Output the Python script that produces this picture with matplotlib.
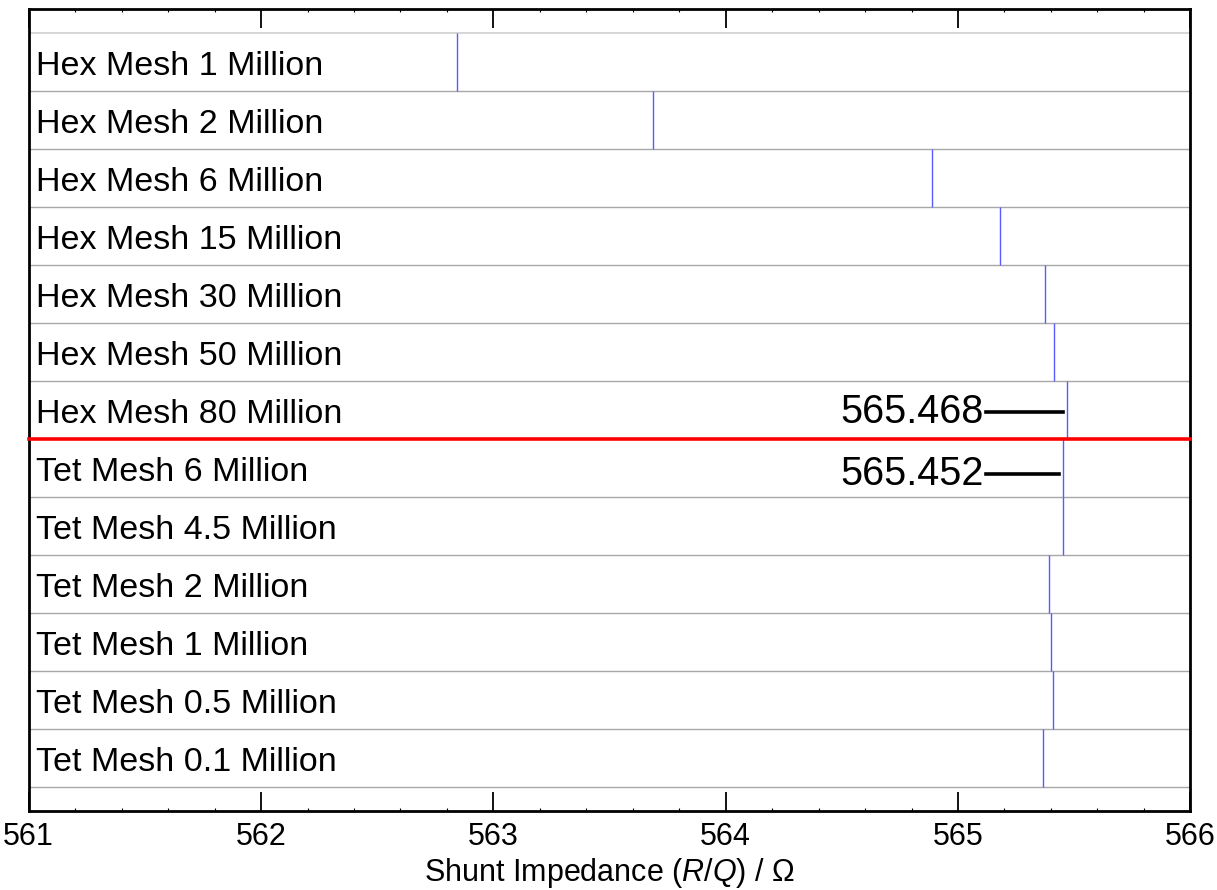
import numpy as np
import matplotlib.pyplot as plt
from matplotlib.ticker import MultipleLocator

plt.rcParams['font.family'] = ['Liberation Sans', 'DejaVu Sans']
plt.rcParams['mathtext.fontset'] = 'custom'
plt.rcParams['mathtext.rm'] = 'Liberation Sans'
plt.rcParams['mathtext.it'] = 'Liberation Sans:italic'

# mesh studies, top to bottom
labels = ['Hex Mesh 1 Million', 'Hex Mesh 2 Million', 'Hex Mesh 6 Million',
          'Hex Mesh 15 Million', 'Hex Mesh 30 Million', 'Hex Mesh 50 Million',
          'Hex Mesh 80 Million', 'Tet Mesh 6 Million', 'Tet Mesh 4.5 Million',
          'Tet Mesh 2 Million', 'Tet Mesh 1 Million', 'Tet Mesh 0.5 Million',
          'Tet Mesh 0.1 Million']
rq = [562.843, 563.686, 564.888, 565.182, 565.373, 565.414, 565.468,
      565.452, 565.451, 565.390, 565.400, 565.407, 565.367]
n_hex = 7
annotated = [6, 7]

fig = plt.figure(figsize=(12.17, 8.9), dpi=100)
ax = fig.add_axes([0.0236, 0.0891, 0.9545, 0.9008])

n = len(labels)
for i in range(n + 1):
    if i == n_hex:
        continue
    c = '#d0d0d0' if i == 0 else '#a8a8a8'
    ax.axhline(i, color=c, lw=1.2 if i == 0 else 1.0, zorder=1)
ax.axhline(n_hex, color='red', lw=2.6, zorder=3, clip_on=False)

for i, (lab, v) in enumerate(zip(labels, rq)):
    ax.vlines(v, i, i + 1, color='#5a5aff', lw=1.0, zorder=2)
    ax.text(561.03, i + 0.58, lab, ha='left', va='center', fontsize=24.5)

for i in annotated:
    v = rq[i]
    y = i + 0.53 if i < n_hex else i + 0.6
    ax.plot([565.12, v - 0.018], [y, y], color='black', lw=2.6, zorder=4)
    ax.text(565.11, y, f'{v:.3f}', ha='right', va='center', fontsize=28.5)

ax.set_xlim(561, 566)
ax.set_ylim(13.41, -0.414)
ax.set_yticks([])
ax.xaxis.set_major_locator(MultipleLocator(1))
ax.xaxis.set_minor_locator(MultipleLocator(0.2))
ax.tick_params(axis='x', which='major', direction='in', top=True, length=14,
               width=1.3, labelsize=22, pad=8)
ax.tick_params(axis='x', which='minor', direction='in', top=True, length=2.5,
               width=0.8)
for s in ax.spines.values():
    s.set_linewidth(2.0)
ax.set_xlabel('Shunt Impedance ($\\it{R/Q}$) / \u03a9', fontsize=22, labelpad=3)

fig.savefig('out.png', dpi=100)
